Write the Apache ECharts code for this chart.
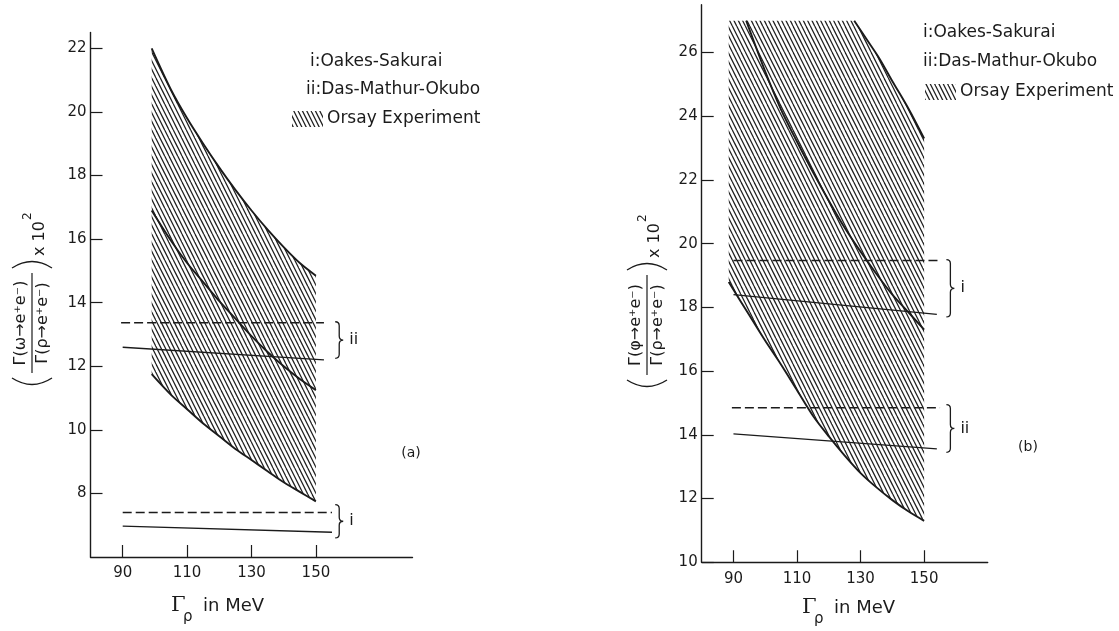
<!DOCTYPE html>
<html>
<head>
<meta charset="utf-8">
<script src="https://cdn.jsdelivr.net/npm/echarts@6/dist/echarts.min.js"></script>
<style>
  html, body { margin: 0; background: #fff; }
  #chart { width: 1119px; height: 631px; }
</style>
</head>
<body>
<div id="chart"></div>
<script>
// ---- panel (a): omega -> e+e- ----
const xTicksA = [90, 110, 130, 150];
const yTicksA = [8, 10, 12, 14, 16, 18, 20, 22];
const orsayUpperA = [[99, 22.0], [105, 20.7], [110, 19.8], [115, 19.0], [120, 18.25], [125, 17.55], [130, 16.9], [135, 16.3], [140, 15.75], [145, 15.25], [150, 14.85]];
const orsayLowerA = [[99, 11.75], [105, 11.1], [110, 10.65], [115, 10.2], [120, 9.8], [125, 9.4], [130, 9.05], [135, 8.7], [140, 8.35], [145, 8.05], [150, 7.75]];
const centralA = [[99, 16.9], [105, 15.95], [110, 15.25], [115, 14.65], [120, 14.05], [125, 13.5], [130, 12.95], [135, 12.45], [140, 12.0], [145, 11.6], [150, 11.25]];
const dmoDashedA = [[89.5, 13.37], [152.5, 13.37]];
const dmoSolidA = [[90, 12.6], [152.5, 12.2]];
const osDashedA = [[90, 7.4], [155, 7.4]];
const osSolidA = [[90, 6.97], [155, 6.78]];
const bracesA = [[156, 13.4, 12.25], [156, 7.65, 6.6]];
const braceLabelsA = ['ii', 'i'];

// ---- panel (b): phi -> e+e- ----
const xTicksB = [90, 110, 130, 150];
const yTicksB = [10, 12, 14, 16, 18, 20, 22, 24, 26];
const bandCapB = 27;
const orsayUpperB = [[128, 27.0], [132, 26.4], [136, 25.8], [140, 25.1], [145, 24.25], [150, 23.3]];
const orsayLowerB = [[88.5, 18.8], [95, 17.75], [100, 16.95], [105, 16.2], [110, 15.4], [115, 14.6], [120, 13.95], [125, 13.35], [130, 12.8], [135, 12.35], [140, 11.95], [145, 11.6], [150, 11.3]];
const centralB = [[94, 27.0], [100, 25.4], [105, 24.2], [110, 23.2], [115, 22.25], [120, 21.35], [125, 20.5], [130, 19.75], [135, 19.05], [140, 18.4], [145, 17.85], [150, 17.3]];
const osDashedB = [[90, 19.47], [154.5, 19.47]];
const osSolidB = [[90, 18.4], [154, 17.78]];
const dmoDashedB = [[89.5, 14.85], [155, 14.85]];
const dmoSolidB = [[90, 14.03], [154, 13.56]];
const bracesB = [[157, 19.5, 17.7], [157, 14.95, 13.45]];
const braceLabelsB = ['i', 'ii'];

const INK = '#1b1b1b';
const FONT = 'DejaVu Sans';

// hatch pattern "\\\\" for the Orsay band
function makeHatch() {
  const c = document.createElement('canvas');
  c.width = 13;
  c.height = 26;
  const ctx = c.getContext('2d');
  ctx.strokeStyle = '#1e1e1e';
  ctx.lineWidth = 1.25;
  for (let k = -3; k <= 3; k++) {
    const x0 = k * 13 / 3;
    ctx.beginPath();
    ctx.moveTo(x0, 0);
    ctx.lineTo(x0 + 13, 26);
    ctx.stroke();
  }
  return { type: 'pattern', image: c, repeat: 'repeat' };
}
const hatch = makeHatch();

function bandSeries(axis, upper, lower) {
  return {
    type: 'custom', xAxisIndex: axis, yAxisIndex: axis, z: 1, silent: true,
    data: [0],
    renderItem: function (params, api) {
      const pts = upper.map(p => api.coord(p))
        .concat(lower.slice().reverse().map(p => api.coord(p)));
      return { type: 'polygon', shape: { points: pts }, style: { fill: hatch, stroke: null } };
    }
  };
}

function lineSeries(axis, data, dashed, width) {
  return {
    type: 'line', xAxisIndex: axis, yAxisIndex: axis, data: data,
    symbol: 'none', showSymbol: false, silent: true, z: 3,
    smooth: data.length > 2 ? 0.3 : false,
    lineStyle: { color: INK, width: width, type: dashed ? [9, 4] : 'solid' }
  };
}

function braceSeries(axis, braces, labels) {
  return {
    type: 'custom', xAxisIndex: axis, yAxisIndex: axis, z: 3, silent: true,
    data: braces,
    encode: { x: 0, y: [1, 2] },
    renderItem: function (params, api) {
      const top = api.coord([api.value(0), api.value(1)]);
      const bot = api.coord([api.value(0), api.value(2)]);
      const x = top[0], y1 = top[1], y2 = bot[1], ym = (y1 + y2) / 2, w = 4;
      const d = 'M' + x + ',' + y1 + ' Q' + (x + w) + ',' + y1 + ' ' + (x + w) + ',' + (y1 + w) +
        ' L' + (x + w) + ',' + (ym - w) + ' Q' + (x + w) + ',' + ym + ' ' + (x + 2 * w) + ',' + ym +
        ' Q' + (x + w) + ',' + ym + ' ' + (x + w) + ',' + (ym + w) +
        ' L' + (x + w) + ',' + (y2 - w) + ' Q' + (x + w) + ',' + y2 + ' ' + x + ',' + y2;
      return {
        type: 'group',
        children: [
          { type: 'path', shape: { pathData: d }, style: { stroke: INK, fill: 'none', lineWidth: 1.3 } },
          { type: 'text', x: x + 14, y: ym, style: { text: labels[params.dataIndex], fill: INK, fontSize: 16, fontFamily: FONT, verticalAlign: 'middle' } }
        ]
      };
    }
  };
}

function xAxisCfg(grid, max, ticks) {
  return {
    type: 'value', gridIndex: grid, min: 80, max: max,
    axisLine: { lineStyle: { color: INK, width: 1.4 } },
    axisTick: { inside: true, length: 12, customValues: ticks, lineStyle: { color: INK, width: 1.2 } },
    axisLabel: { customValues: ticks, margin: 9, color: INK, fontSize: 15, fontFamily: FONT },
    splitLine: { show: false }
  };
}
function yAxisCfg(grid, min, max, ticks) {
  return {
    type: 'value', gridIndex: grid, min: min, max: max,
    axisLine: { show: true, lineStyle: { color: INK, width: 1.4 } },
    axisTick: { show: true, inside: true, length: 12, customValues: ticks, lineStyle: { color: INK, width: 1.2 } },
    axisLabel: { customValues: ticks, margin: 4, color: INK, fontSize: 15, fontFamily: FONT },
    splitLine: { show: false }
  };
}

// rotated ratio title, drawn around (cx, cy)
function ratioTitle(cx, cy, meson) {
  const txt = { fill: INK, fontFamily: FONT, fontSize: 16 };
  return {
    type: 'group', x: cx, y: cy, rotation: Math.PI / 2,
    children: [
      { type: 'line', shape: { x1: -50, y1: 0, x2: 50, y2: 0 }, style: { stroke: INK, lineWidth: 1.2 } },
      { type: 'text', x: 0, y: -3, style: Object.assign({ text: 'Γ(' + meson + '→e⁺e⁻)', align: 'center', verticalAlign: 'bottom' }, txt) },
      { type: 'text', x: 0, y: 3, style: Object.assign({ text: 'Γ(ρ→e⁺e⁻)', align: 'center', verticalAlign: 'top' }, txt) },
      { type: 'bezierCurve', shape: { x1: -55, y1: -20, cpx1: -68, cpy1: 0, x2: -55, y2: 20 }, style: { stroke: INK, lineWidth: 1.3, fill: 'none' } },
      { type: 'bezierCurve', shape: { x1: 55, y1: -20, cpx1: 68, cpy1: 0, x2: 55, y2: 20 }, style: { stroke: INK, lineWidth: 1.3, fill: 'none' } },
      { type: 'text', x: 67, y: 8, style: Object.assign({}, txt, { text: 'x 10', fontSize: 16, verticalAlign: 'middle' }) },
      { type: 'text', x: 103, y: -4, style: Object.assign({}, txt, { text: '2', fontSize: 12, verticalAlign: 'middle' }) }
    ]
  };
}

function axisName(x, y) {
  return {
    type: 'group', x: x, y: y,
    children: [
      { type: 'text', x: 0, y: 0, style: { text: 'Γ', fill: INK, fontSize: 21, fontFamily: 'DejaVu Serif', verticalAlign: 'middle' } },
      { type: 'text', x: 12, y: 11, style: { text: 'ρ', fill: INK, fontSize: 15, fontFamily: FONT, verticalAlign: 'middle' } },
      { type: 'text', x: 32, y: 0, style: { text: 'in MeV', fill: INK, fontSize: 18, fontFamily: FONT, verticalAlign: 'middle' } }
    ]
  };
}

function legend(x1, y1, x2, y2, sx, sy, tx, ty) {
  const st = { fill: INK, fontSize: 17, fontFamily: FONT, verticalAlign: 'middle' };
  return [
    { type: 'text', x: x1, y: y1, style: Object.assign({ text: 'i:Oakes-Sakurai' }, st) },
    { type: 'text', x: x2, y: y2, style: Object.assign({ text: 'ii:Das-Mathur-Okubo' }, st) },
    { type: 'rect', shape: { x: sx, y: sy, width: 31, height: 16 }, style: { fill: hatch } },
    { type: 'text', x: tx, y: ty, style: Object.assign({ text: 'Orsay Experiment' }, st) }
  ];
}

const chart = echarts.init(document.getElementById('chart'));
const option = {
  backgroundColor: '#fff',
  animation: false,
  grid: [
    { left: 90.5, top: 32.5, width: 322, height: 524.5 },
    { left: 701.7, top: 4.75, width: 286, height: 557.5 }
  ],
  xAxis: [xAxisCfg(0, 180, xTicksA), xAxisCfg(1, 170, xTicksB)],
  yAxis: [yAxisCfg(0, 6, 22.5, yTicksA), yAxisCfg(1, 10, 27.5, yTicksB)],
  series: [
    bandSeries(0, orsayUpperA, orsayLowerA),
    lineSeries(0, orsayUpperA, false, 1.9),
    lineSeries(0, orsayLowerA, false, 1.9),
    lineSeries(0, centralA, false, 1.9),
    lineSeries(0, dmoDashedA, true, 1.4),
    lineSeries(0, dmoSolidA, false, 1.4),
    lineSeries(0, osDashedA, true, 1.4),
    lineSeries(0, osSolidA, false, 1.4),
    braceSeries(0, bracesA, braceLabelsA),

    bandSeries(1, [[orsayLowerB[0][0], bandCapB]].concat(orsayUpperB), orsayLowerB),
    lineSeries(1, orsayUpperB, false, 1.9),
    lineSeries(1, orsayLowerB, false, 1.9),
    lineSeries(1, centralB, false, 1.9),
    lineSeries(1, osDashedB, true, 1.4),
    lineSeries(1, osSolidB, false, 1.4),
    lineSeries(1, dmoDashedB, true, 1.4),
    lineSeries(1, dmoSolidB, false, 1.4),
    braceSeries(1, bracesB, braceLabelsB)
  ],
  graphic: [
    ratioTitle(32, 323, 'ω'),
    ratioTitle(647, 325, 'φ'),
    axisName(171, 606),
    axisName(802, 608),
    { type: 'text', x: 411, y: 453, style: { text: '(a)', fill: INK, fontSize: 14, fontFamily: FONT, align: 'center', verticalAlign: 'middle' } },
    { type: 'text', x: 1028, y: 447, style: { text: '(b)', fill: INK, fontSize: 14, fontFamily: FONT, align: 'center', verticalAlign: 'middle' } }
  ].concat(
    legend(310, 62, 306, 90, 292, 111, 327, 119),
    legend(923, 33, 923, 62, 925, 84, 960, 92)
  )
};
chart.setOption(option);
</script>
</body>
</html>
